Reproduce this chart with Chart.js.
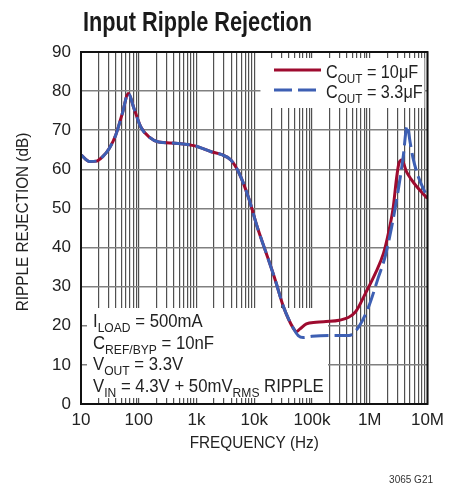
<!DOCTYPE html>
<html>
<head>
<meta charset="utf-8">
<script src="https://cdn.jsdelivr.net/npm/chart.js@4"></script>
<style>
  html, body { margin: 0; padding: 0; background: #fff; }
  #wrap { width: 450px; height: 487px; position: relative; }
</style>
</head>
<body>
<div id="wrap"><canvas id="rippleChart"></canvas></div>
<script>
// Data
const redFreq = [10, 14, 18.5, 24, 31, 40, 52, 66, 83, 108, 150, 222, 430, 940, 1800, 2660, 3940, 5480, 8110, 11250, 16200, 23100, 32000, 47400, 54000, 62000, 80000, 118000, 175000, 296000, 569000, 843000, 1.25e6, 1.73e6, 2.1e6, 2.56e6, 2.9e6, 3.2e6, 3.6e6, 4.3e6, 5.2e6, 6.5e6, 8e6, 1e7];
const redDb = [63.7, 62.0, 62.1, 63.3, 65.4, 68.8, 74.3, 79.4, 75.5, 70.9, 68.3, 67.0, 66.7, 66.0, 64.5, 63.8, 62.4, 59.0, 52.4, 45.3, 38.5, 31.7, 24.9, 19.4, 18.5, 19.2, 20.5, 20.9, 21.1, 21.4, 23.6, 28.3, 33.4, 38.5, 43.6, 50.4, 57.5, 61.5, 62.4, 59.5, 57.5, 55.6, 54.1, 52.6];

const blueFreq = [10, 14, 18.5, 24, 31, 40, 52, 66, 83, 108, 150, 222, 430, 940, 1800, 2660, 3940, 5480, 8110, 11250, 16200, 23100, 32000, 47400, 57800, 70000, 100000, 200000, 437000, 649000, 960000, 1.42e6, 1.85e6, 2.4e6, 3.12e6, 3.8e6, 4.45e6, 5.0e6, 5.6e6, 6.8e6, 8.5e6, 1e7];
const blueDb = [63.7, 62.0, 62.1, 63.3, 65.4, 68.8, 74.3, 79.4, 75.5, 70.9, 68.3, 67.0, 66.7, 66.0, 64.5, 63.8, 62.4, 59.0, 52.4, 45.3, 38.5, 31.7, 24.9, 19.4, 17.5, 17.0, 17.3, 17.5, 17.5, 19.8, 24.9, 32.5, 37.7, 45.3, 54.7, 63.2, 71.2, 67.0, 63.0, 58.5, 55.0, 53.0];

const decades = [10, 100, 1e3, 1e4, 1e5, 1e6, 1e7];
const decadeLabels = ['10', '100', '1k', '10k', '100k', '1M', '10M'];
const yTicks = [0, 10, 20, 30, 40, 50, 60, 70, 80, 90];

const FONT = "'Liberation Sans', Arial, sans-serif";
const RED = '#9e0b2f';
const BLUE = '#3d5fb3';
const TEXT = '#222';

// grid positions: 1..9 in every decade
const gridFreqs = [];
decades.slice(0, -1).forEach(d => {
  for (let m = 1; m < 10; m++) gridFreqs.push(m * d);
});
gridFreqs.push(decades[decades.length - 1]);

// text with subscripts, squeezed a bit to look like the condensed original
function drawRich(ctx, parts, x, y, size, sx, align) {
  ctx.save();
  ctx.fillStyle = TEXT;
  ctx.textBaseline = 'alphabetic';
  let total = 0;
  parts.forEach(p => {
    ctx.font = (p[1] ? Math.round(size * 0.72) : size) + 'px ' + FONT;
    total += ctx.measureText(p[0]).width;
  });
  ctx.translate(x, y);
  ctx.scale(sx, 1);
  let cx = align === 'center' ? -total / 2 : 0;
  parts.forEach(p => {
    ctx.font = (p[1] ? Math.round(size * 0.72) : size) + 'px ' + FONT;
    ctx.fillText(p[0], cx, p[1] ? size * 0.25 : 0);
    cx += ctx.measureText(p[0]).width;
  });
  ctx.restore();
}

const decorPlugin = {
  id: 'decor',
  beforeDatasetsDraw(chart) {
    const { ctx, chartArea: a } = chart;
    ctx.save();
    ctx.fillStyle = '#fff';
    // legend panel and conditions panel cover the grid
    ctx.fillRect(a.right - 167, a.top + 6, 164, 50);
    ctx.fillRect(a.left + 6, a.bottom - 96, 241, 90);
    ctx.restore();
  },
  afterDatasetsDraw(chart) {
    const { ctx, chartArea: a } = chart;
    ctx.save();
    // plot frame
    ctx.strokeStyle = '#111';
    ctx.lineWidth = 2;
    ctx.strokeRect(a.left, a.top, a.right - a.left, a.bottom - a.top);

    // legend
    ctx.lineWidth = 3;
    ctx.strokeStyle = RED;
    ctx.beginPath(); ctx.moveTo(274, 70); ctx.lineTo(321, 70); ctx.stroke();
    ctx.strokeStyle = BLUE;
    ctx.setLineDash([18, 6]);
    ctx.beginPath(); ctx.moveTo(274, 90); ctx.lineTo(321, 90); ctx.stroke();
    ctx.setLineDash([]);
    ctx.restore();

    drawRich(ctx, [['C'], ['OUT', 1], [' = 10\u03BCF']], 326, 78, 18, 0.9);
    drawRich(ctx, [['C'], ['OUT', 1], [' = 3.3\u03BCF']], 326, 98, 18, 0.9);

    // operating conditions
    drawRich(ctx, [['I'], ['LOAD', 1], [' = 500mA']], 93, 327, 18, 0.93);
    drawRich(ctx, [['C'], ['REF/BYP', 1], [' = 10nF']], 93, 349, 18, 0.93);
    drawRich(ctx, [['V'], ['OUT', 1], [' = 3.3V']], 93, 370, 18, 0.93);
    drawRich(ctx, [['V'], ['IN', 1], [' = 4.3V + 50mV'], ['RMS', 1], [' RIPPLE']], 93, 392, 18, 0.93);
  },
  afterDraw(chart) {
    const { ctx, chartArea: a } = chart;
    // chart title
    ctx.save();
    ctx.fillStyle = '#1a1a1a';
    ctx.font = 'bold 27px ' + FONT;
    const tw = ctx.measureText('Input Ripple Rejection').width;
    ctx.translate(83, 31);
    ctx.scale(229 / tw, 1);
    ctx.fillText('Input Ripple Rejection', 0, 0);
    ctx.restore();

    // axis titles
    drawRich(ctx, [['FREQUENCY (Hz)']], (a.left + a.right) / 2, 448, 17, 0.9, 'center');
    ctx.save();
    ctx.translate(28, 222);
    ctx.rotate(-Math.PI / 2);
    drawRich(ctx, [['RIPPLE REJECTION (dB)']], 0, 0, 17, 0.9, 'center');
    ctx.restore();

    // figure code
    ctx.save();
    ctx.fillStyle = '#333';
    ctx.font = '10px ' + FONT;
    ctx.textAlign = 'right';
    ctx.fillText('3065 G21', 433, 483);
    ctx.restore();
  }
};

const ctx = document.getElementById('rippleChart').getContext('2d');
const rippleChart = new Chart(ctx, {
  type: 'line',
  data: {
    datasets: [{
      label: 'COUT = 10\u03BCF',
      data: redFreq.map((f, i) => ({ x: f, y: redDb[i] })),
      borderColor: RED,
      borderWidth: 3,
      pointRadius: 0,
      cubicInterpolationMode: 'monotone',
      order: 1
    }, {
      label: 'COUT = 3.3\u03BCF',
      data: blueFreq.map((f, i) => ({ x: f, y: blueDb[i] })),
      borderColor: BLUE,
      borderWidth: 3,
      borderDash: [18, 6],
      pointRadius: 0,
      cubicInterpolationMode: 'monotone',
      order: 0
    }]
  },
  options: {
    responsive: true,
    maintainAspectRatio: false,
    animation: false,
    layout: { padding: { top: 52, right: 17, left: 0, bottom: 0 } },
    plugins: {
      legend: { display: false },
      tooltip: { enabled: false }
    },
    scales: {
      x: {
        type: 'logarithmic',
        min: 10,
        max: 1e7,
        afterBuildTicks: scale => { scale.ticks = gridFreqs.map(v => ({ value: v })); },
        afterFit: scale => { scale.height = 83; },
        grid: { color: '#505050', lineWidth: 1.2, drawTicks: false },
        border: { display: false },
        ticks: {
          autoSkip: false,
          maxRotation: 0,
          padding: 6,
          color: TEXT,
          font: { family: FONT, size: 17 },
          callback: value => {
            const i = decades.indexOf(value);
            return i >= 0 ? decadeLabels[i] : '';
          }
        }
      },
      y: {
        min: 0,
        max: 90,
        afterBuildTicks: scale => { scale.ticks = yTicks.map(v => ({ value: v })); },
        afterFit: scale => { scale.width = 81; },
        grid: { color: '#808080', lineWidth: 1.5, drawTicks: false },
        border: { display: false },
        ticks: {
          padding: 10,
          color: TEXT,
          font: { family: FONT, size: 17 }
        }
      }
    }
  },
  plugins: [decorPlugin]
});
</script>
</body>
</html>
